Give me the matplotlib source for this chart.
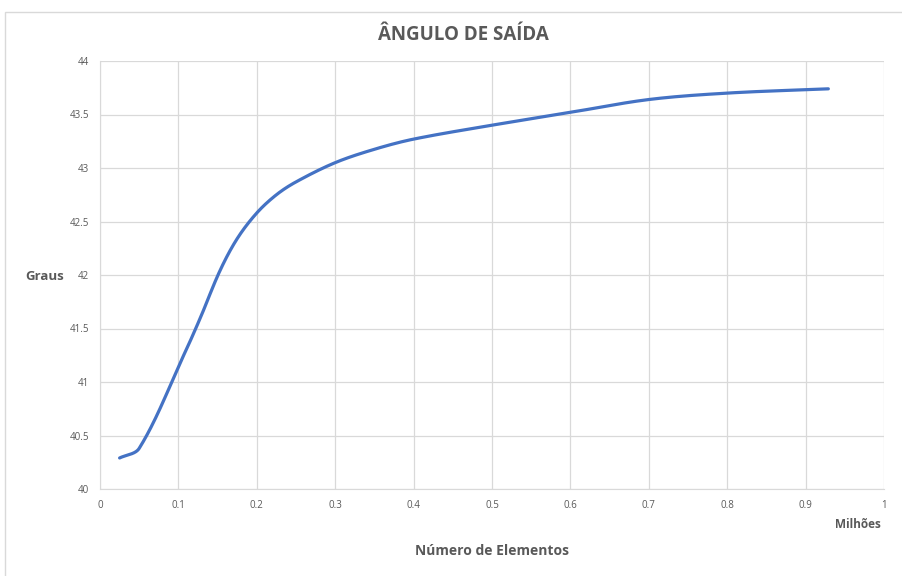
import numpy as np
import matplotlib.pyplot as plt
from matplotlib.patches import Rectangle

# data (x in millions of elements, y in degrees)
elementos = [0.025, 0.05, 0.108, 0.128, 0.153, 0.175, 0.2, 0.225, 0.25, 0.3, 0.35,
             0.4, 0.5, 0.6, 0.7, 0.8, 0.929]
graus = [40.29, 40.38, 41.27, 41.6, 42.04, 42.34, 42.58, 42.75, 42.87, 43.05, 43.175,
         43.27, 43.40, 43.52, 43.64, 43.70, 43.74]

x_ticks = [0, 0.1, 0.2, 0.3, 0.4, 0.5, 0.6, 0.7, 0.8, 0.9, 1]
y_ticks = [40, 40.5, 41, 41.5, 42, 42.5, 43, 43.5, 44]

plt.rcParams['font.family'] = ['Open Sans', 'DejaVu Sans']
gray = "#595959"


def smooth(xs, ys, sx=784, sy=107, n=40):
    # Excel-like smoothed line: Bezier through the points, tangents scaled
    # by segment length measured on screen
    p = np.column_stack([np.asarray(xs, float) * sx, np.asarray(ys, float) * sy])
    k = len(p)
    seg = np.linalg.norm(np.diff(p, axis=0), axis=1)
    t = np.linspace(0, 1, n)[:, None]
    pts = []
    for i in range(k - 1):
        a, b = p[i], p[i + 1]
        if i == 0:
            c1 = a + (b - a) / 3
        else:
            m = p[i + 1] - p[i - 1]
            c1 = a + m * seg[i] / (seg[i - 1] + seg[i]) / 3
        if i == k - 2:
            c2 = b - (b - a) / 3
        else:
            m = p[i + 2] - p[i]
            c2 = b - m * seg[i] / (seg[i] + seg[i + 1]) / 3
        pts.append((1 - t) ** 3 * a + 3 * (1 - t) ** 2 * t * c1
                   + 3 * (1 - t) * t ** 2 * c2 + t ** 3 * b)
    pts = np.vstack(pts)
    return pts[:, 0] / sx, pts[:, 1] / sy


fig = plt.figure(figsize=(9.03, 5.76), dpi=100)
fig.patches.append(Rectangle((5 / 903, -0.01), 1, 1 - 12 / 576 + 0.01,
                             transform=fig.transFigure, fill=False,
                             edgecolor="#d9d9d9", linewidth=1))
ax = fig.add_axes([100 / 903, 1 - 489 / 576, 784 / 903, 428 / 576])

cx, cy = smooth(elementos, graus)
ax.plot(cx, cy, color="#4472C4", linewidth=2.3, solid_capstyle="round")

ax.set_xlim(0, 1)
ax.set_ylim(40, 44)
ax.set_xticks(x_ticks)
ax.set_yticks(y_ticks)
ax.set_xticklabels([f"{v:g}" for v in x_ticks])
ax.set_yticklabels([f"{v:g}" for v in y_ticks])
ax.tick_params(length=0, labelsize=7, colors=gray, pad=8)
ax.grid(True, color="#d9d9d9", linewidth=0.9)
ax.set_axisbelow(True)
for s in ax.spines.values():
    s.set_visible(False)
ax.spines['left'].set_visible(True)
ax.spines['bottom'].set_visible(True)
ax.spines['left'].set_color("#d9d9d9")
ax.spines['bottom'].set_color("#d9d9d9")

fig.text(463 / 903, 1 - 35 / 576, "ÂNGULO DE SAÍDA", ha="center", va="center",
         fontsize=13.5, fontweight="bold", color=gray)
fig.text(45 / 903, 1 - 277 / 576, "Graus", ha="center", va="center",
         fontsize=9.5, fontweight="bold", color=gray)
fig.text(858 / 903, 1 - 524 / 576, "Milhões", ha="center", va="center",
         fontsize=8.5, fontweight="bold", color=gray)
fig.text(492 / 903, 1 - 551 / 576, "Número de Elementos", ha="center", va="center",
         fontsize=10, fontweight="bold", color=gray)

fig.savefig("out.png", dpi=100)
